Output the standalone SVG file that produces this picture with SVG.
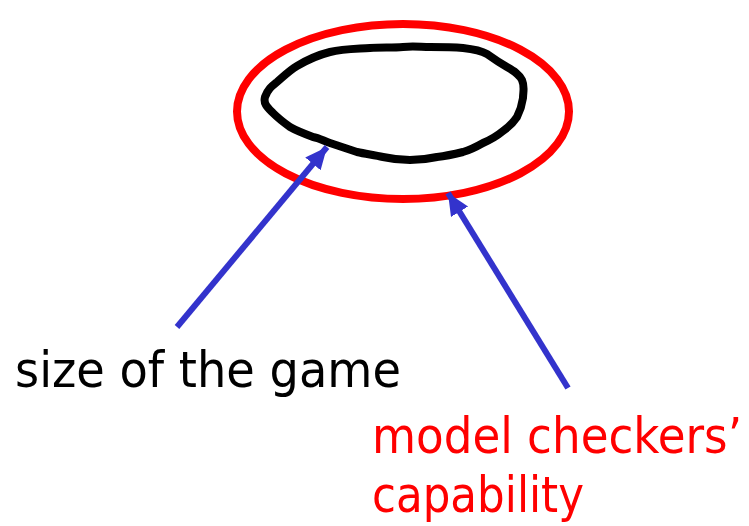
<svg xmlns="http://www.w3.org/2000/svg" width="749" height="526" viewBox="0 0 749 526">
  <style>
    .label { font-family: "DejaVu Sans Condensed", "DejaVu Sans", "Liberation Sans", sans-serif; font-stretch: condensed; font-size: 50px; }
    .black { fill: #000000; }
    .red { fill: #FF0000; }
    .connector { stroke: #3333CC; stroke-width: 6; fill: none; marker-end: url(#head); }
  </style>
  <defs>
    <marker id="head" markerUnits="userSpaceOnUse" markerWidth="24" markerHeight="22" refX="22" refY="10" orient="auto">
      <path d="M0,0 L22,10 L0,20 Z" fill="#3333CC"/>
    </marker>
  </defs>
  <rect width="749" height="526" fill="#FFFFFF"/>

  <!-- outer boundary: model checkers' capability -->
  <g id="capability-boundary">
    <ellipse cx="403" cy="111.5" rx="166" ry="87.5" fill="none" stroke="#FF0000" stroke-width="8"/>
  </g>

  <!-- inner hand-drawn region: size of the game -->
  <g id="game-region">
    <path d="M265,97 C268,89 272,86 277,82 C284,76 290,70 297,66 C307,60 318,55 330,52 C343,49 356,49 370,48 C381,47 392,48 403,47 C413,46 421,47 430,47 C441,47 452,47 463,48 C472,49 480,50 487,54 C494,59 500,63 507,67 C514,71 519,74 522,80 C525,87 523,92 523,98 C522,105 520,111 517,117 C513,123 509,127 503,131 C497,136 490,140 483,143 C476,147 470,150 463,152 C455,154 446,156 437,157 C428,159 419,160 410,160 C401,160 392,159 383,157 C374,155 366,154 357,152 C348,149 339,146 330,143 C324,141 319,138 313,137 C305,134 297,131 290,127 C283,122 278,118 273,113 C268,108 263,104 265,97 Z"
          fill="none" stroke="#000000" stroke-width="8" stroke-linejoin="round"/>
  </g>

  <!-- connectors -->
  <g id="connectors">
    <line class="connector" x1="177" y1="327" x2="327" y2="147"/>
    <line class="connector" x1="568" y1="388" x2="448" y2="193"/>
  </g>

  <g id="label-game">
    <text class="label black" x="15" y="387" textLength="386" lengthAdjust="spacingAndGlyphs">size of the game</text>
  </g>

  <g id="label-capability">
    <text class="label red" x="372" y="453" textLength="370" lengthAdjust="spacingAndGlyphs">model checkers’</text>
    <text class="label red" x="372" y="512" textLength="212" lengthAdjust="spacingAndGlyphs">capability</text>
  </g>
</svg>
